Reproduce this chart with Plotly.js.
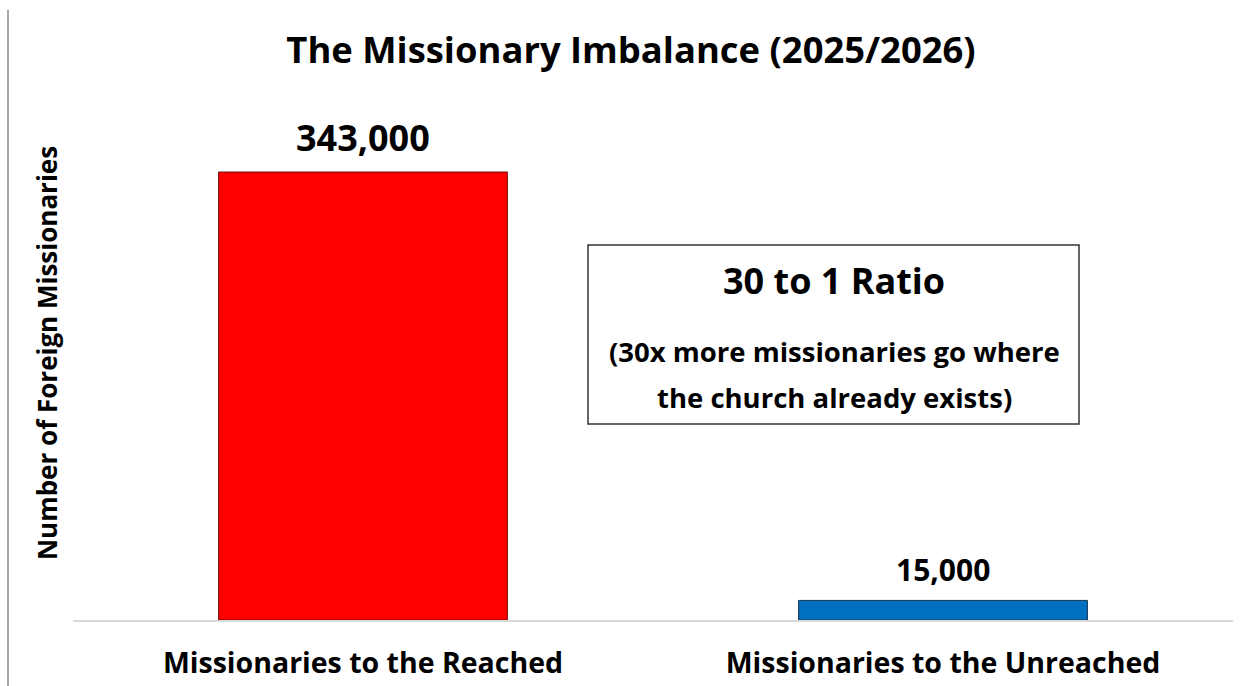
<!DOCTYPE html>
<html><head><meta charset="utf-8">
<script src="https://cdn.plot.ly/plotly-3.0.1.min.js"></script>
<style>html,body{margin:0;padding:0;background:#fff}#chart{width:1250px;height:686px}</style>
</head><body><div id="chart"></div>
<script>
const categories = ["Missionaries to the Reached", "Missionaries to the Unreached"];
const missionaries = [343000, 15000];
const valueLabels = ["343,000", "15,000"];
const barColors = ["#ff0000", "#0070c0"];
const barOutlines = ["#6b1010", "#1b3550"];
const labelSizes = [36, 30];
const chartTitle = "The Missionary Imbalance (2025/2026)";
const yTitle = "Number of Foreign Missionaries";
const boxHeadline = "30 to 1 Ratio";
const boxLines = ["(30x more missionaries go where", "the church already exists)"];

const FONT = "'Open Sans', sans-serif";

const trace = {
  type: "bar",
  x: categories,
  y: missionaries,
  marker: {color: barColors, line: {color: barOutlines, width: 1}},
  hoverinfo: "x+y"
};

const L = 73, R = 1233, T = 86, B = 620, W = 1250, H = 686;
const px = x => (x - L) / (R - L);
const py = y => (B - y) / (B - T);

const annotations = categories.map((c, i) => ({
  x: c, y: missionaries[i], xref: "x", yref: "y",
  text: "<b>" + valueLabels[i] + "</b>",
  showarrow: false, yanchor: "bottom", yshift: 8,
  font: {family: FONT, size: labelSizes[i], color: "#000"}
}));

annotations.push({
  xref: "paper", yref: "paper", x: px(834), y: py(280), xanchor: "center", yanchor: "middle",
  text: "<b>" + boxHeadline + "</b>", showarrow: false,
  font: {family: FONT, size: 36, color: "#000"}
});
boxLines.forEach((t, i) => annotations.push({
  xref: "paper", yref: "paper", x: px(834), y: py(351 + 46 * i), xanchor: "center", yanchor: "middle",
  text: "<b>" + t + "</b>", showarrow: false,
  font: {family: FONT, size: 27.5, color: "#000"}
}));

const layout = {
  width: W, height: H,
  margin: {l: L, r: W - R, t: T, b: H - B},
  paper_bgcolor: "#fff", plot_bgcolor: "#fff",
  font: {family: FONT, color: "#000"},
  title: {text: "<b>" + chartTitle + "</b>", font: {family: FONT, size: 36.4, color: "#000"},
          x: 631 / W, xanchor: "center", xref: "container", y: 1 - 50 / H, yanchor: "middle", yref: "container"},
  bargap: 0.502,
  showlegend: false,
  xaxis: {
    showline: true, linecolor: "#d9d9d9", linewidth: 2,
    ticks: "outside", ticklen: 17, tickcolor: "rgba(0,0,0,0)",
    tickfont: {family: FONT, size: 28.5, color: "#000"},
    tickvals: categories, ticktext: categories.map(c => "<b>" + c + "</b>"),
    fixedrange: true
  },
  yaxis: {
    range: [0, 343000 * (B - T) / 448],
    showticklabels: false, showgrid: false, zeroline: false, showline: false, ticks: "",
    title: {text: "<b>" + yTitle + "</b>", font: {family: FONT, size: 26, color: "#000"}, standoff: 6},
    automargin: false, fixedrange: true
  },
  shapes: [
    {type: "rect", xref: "paper", yref: "paper", x0: px(588), x1: px(1079), y0: py(424), y1: py(245),
     line: {color: "#333", width: 1.5}, fillcolor: "rgba(0,0,0,0)"},
    {type: "line", xref: "paper", yref: "paper", x0: px(8), x1: px(8), y0: py(10), y1: py(690),
     line: {color: "#888", width: 1.5}}
  ],
  annotations: annotations
};

Plotly.newPlot("chart", [trace], layout, {displayModeBar: false, staticPlot: true});
</script></body></html>
